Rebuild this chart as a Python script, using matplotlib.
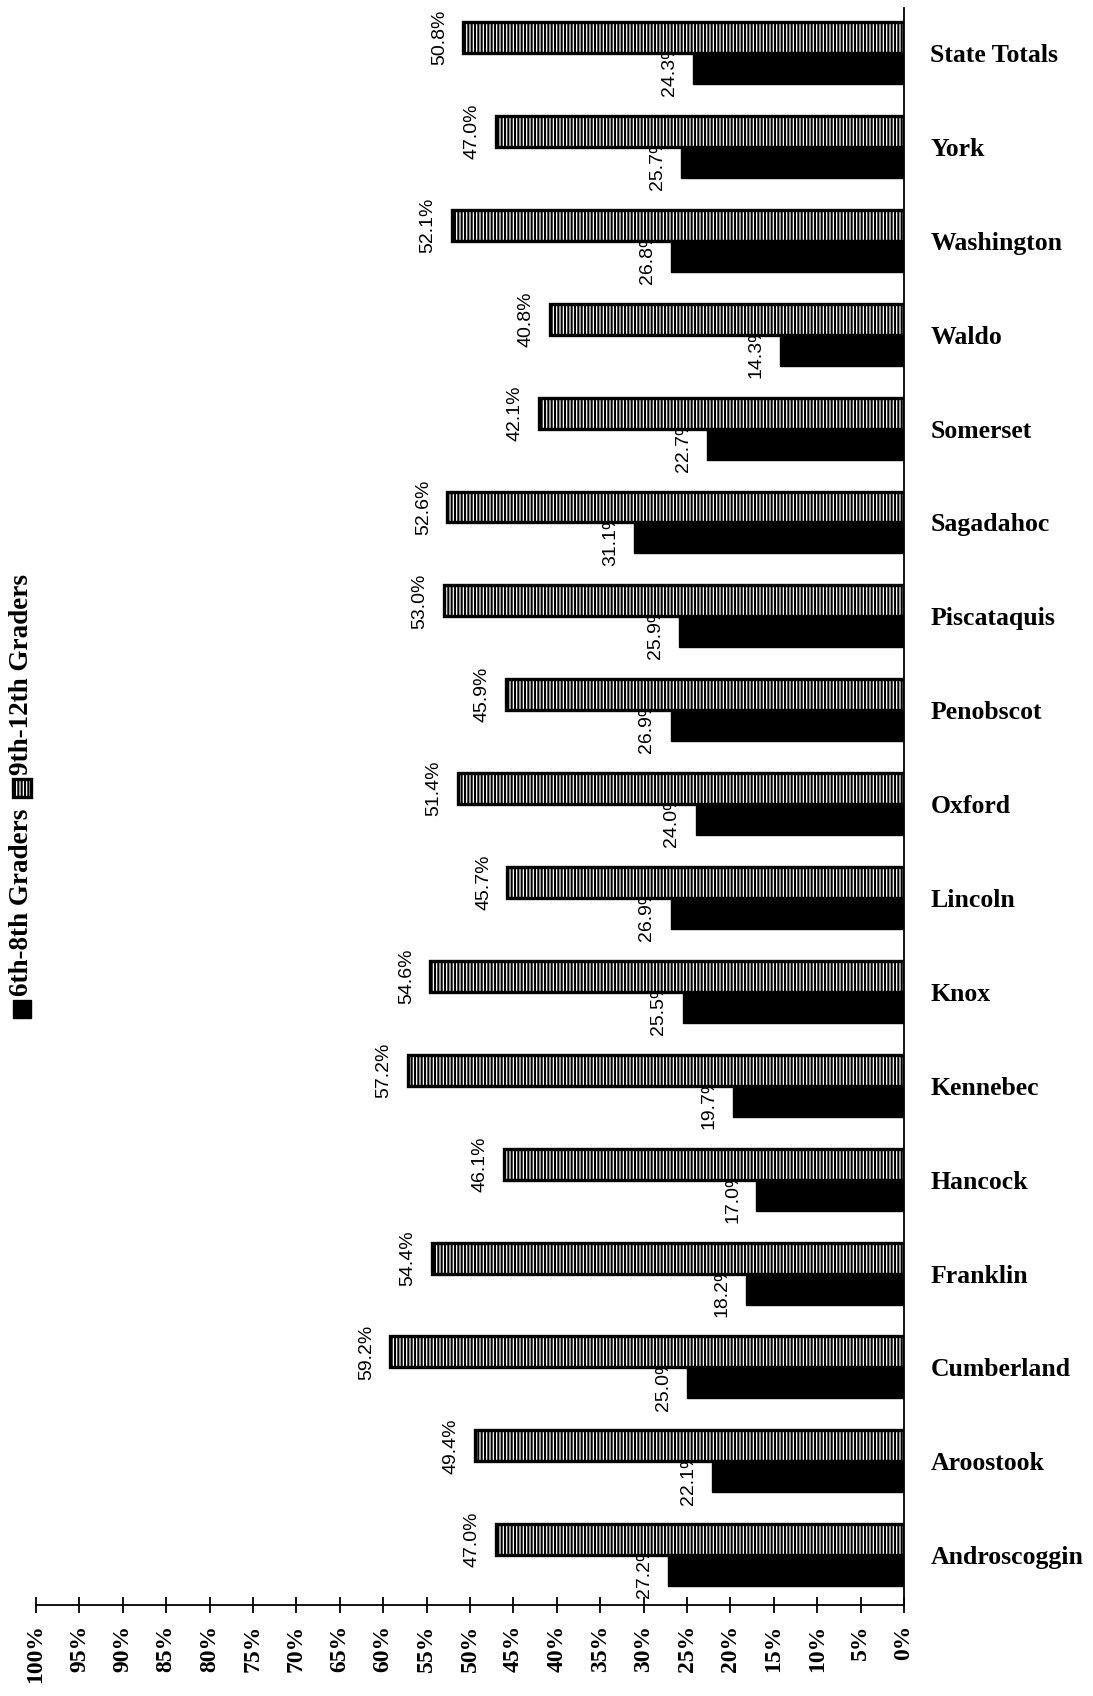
import matplotlib
matplotlib.use("Agg")
import matplotlib.pyplot as plt
import numpy as np
from matplotlib.patches import Rectangle
from matplotlib.transforms import IdentityTransform

# ---- data ----
counties = ["Androscoggin", "Aroostook", "Cumberland", "Franklin", "Hancock",
            "Kennebec", "Knox", "Lincoln", "Oxford", "Penobscot", "Piscataquis",
            "Sagadahoc", "Somerset", "Waldo", "Washington", "York", "State Totals"]
grades_6_8 = [27.2, 22.1, 25.0, 18.2, 17.0, 19.7, 25.5, 26.9, 24.0, 26.9, 25.9,
              31.1, 22.7, 14.3, 26.8, 25.7, 24.3]
grades_9_12 = [47.0, 49.4, 59.2, 54.4, 46.1, 57.2, 54.6, 45.7, 51.4, 45.9, 53.0,
               52.6, 42.1, 40.8, 52.1, 47.0, 50.8]
series_names = ["6th-8th Graders", "9th-12th Graders"]
value_ticks = list(range(0, 101, 5))
value_tick_labels = [f"{v}%" for v in value_ticks]

plt.rcParams["hatch.linewidth"] = 1.5

W, H = 1093, 1696
fig = plt.figure(figsize=(W / 100, H / 100), dpi=100)
ax = fig.add_axes([36 / W, 1 - 1605 / H, (904 - 36) / W, (1605 - 8) / H])

pos = np.arange(len(counties))
h = 0.33
ax.barh(pos - h / 2, grades_6_8, height=h, color="black", edgecolor="black",
        linewidth=1.0, zorder=3)
ax.barh(pos + h / 2, grades_9_12, height=h, facecolor="white", edgecolor="black",
        hatch="|||||", linewidth=2.4, zorder=5)

lab_font = dict(family="Liberation Sans", fontsize=14, rotation=90,
                ha="right", va="center")
for y, v in zip(pos - h / 2, grades_6_8):
    ax.annotate(f"{v:.1f}%", (v, y), xytext=(-11, 0), textcoords="offset points",
                zorder=4, **lab_font)
for y, v in zip(pos + h / 2, grades_9_12):
    ax.annotate(f"{v:.1f}%", (v, y), xytext=(-11, 0), textcoords="offset points",
                zorder=6, **lab_font)

ax.set_xlim(100, 0)
ax.set_ylim(-0.53, 16.48)

for s in ["top", "left"]:
    ax.spines[s].set_visible(False)
ax.spines["right"].set_linewidth(1.3)
ax.spines["bottom"].set_linewidth(1.3)

ax.set_xticks(value_ticks)
ax.set_xticklabels(value_tick_labels, rotation=90, family="Liberation Serif",
                   fontweight="bold", fontsize=17, va="top", ha="center")
ax.tick_params(axis="x", direction="inout", length=12, width=1.3, pad=8)

ax.yaxis.tick_right()
ax.set_yticks(pos)
ax.set_yticklabels(counties, family="Liberation Serif", fontweight="bold",
                   fontsize=18.5)
ax.tick_params(axis="y", length=0, pad=19)

# ---- legend (rotated, built manually) ----
renderer = fig.canvas.get_renderer()
ident = IdentityTransform()
xc = 22
sq = 18
y = H - 1018
styles = [dict(facecolor="black", edgecolor="black", linewidth=1.0),
          dict(facecolor="white", edgecolor="black", hatch="|||||", linewidth=2.4)]
for name, st in zip(series_names, styles):
    r = Rectangle((xc - sq / 2, y), sq, sq, transform=ident, **st)
    fig.add_artist(r)
    y += sq + 4
    t = fig.text(xc, y, name, transform=ident, rotation=90, ha="center",
                 va="bottom", family="Liberation Serif", fontweight="bold",
                 fontsize=19.5)
    bb = t.get_window_extent(renderer)
    y = bb.y1 + 12

fig.savefig("out.png", dpi=100, facecolor="white")
